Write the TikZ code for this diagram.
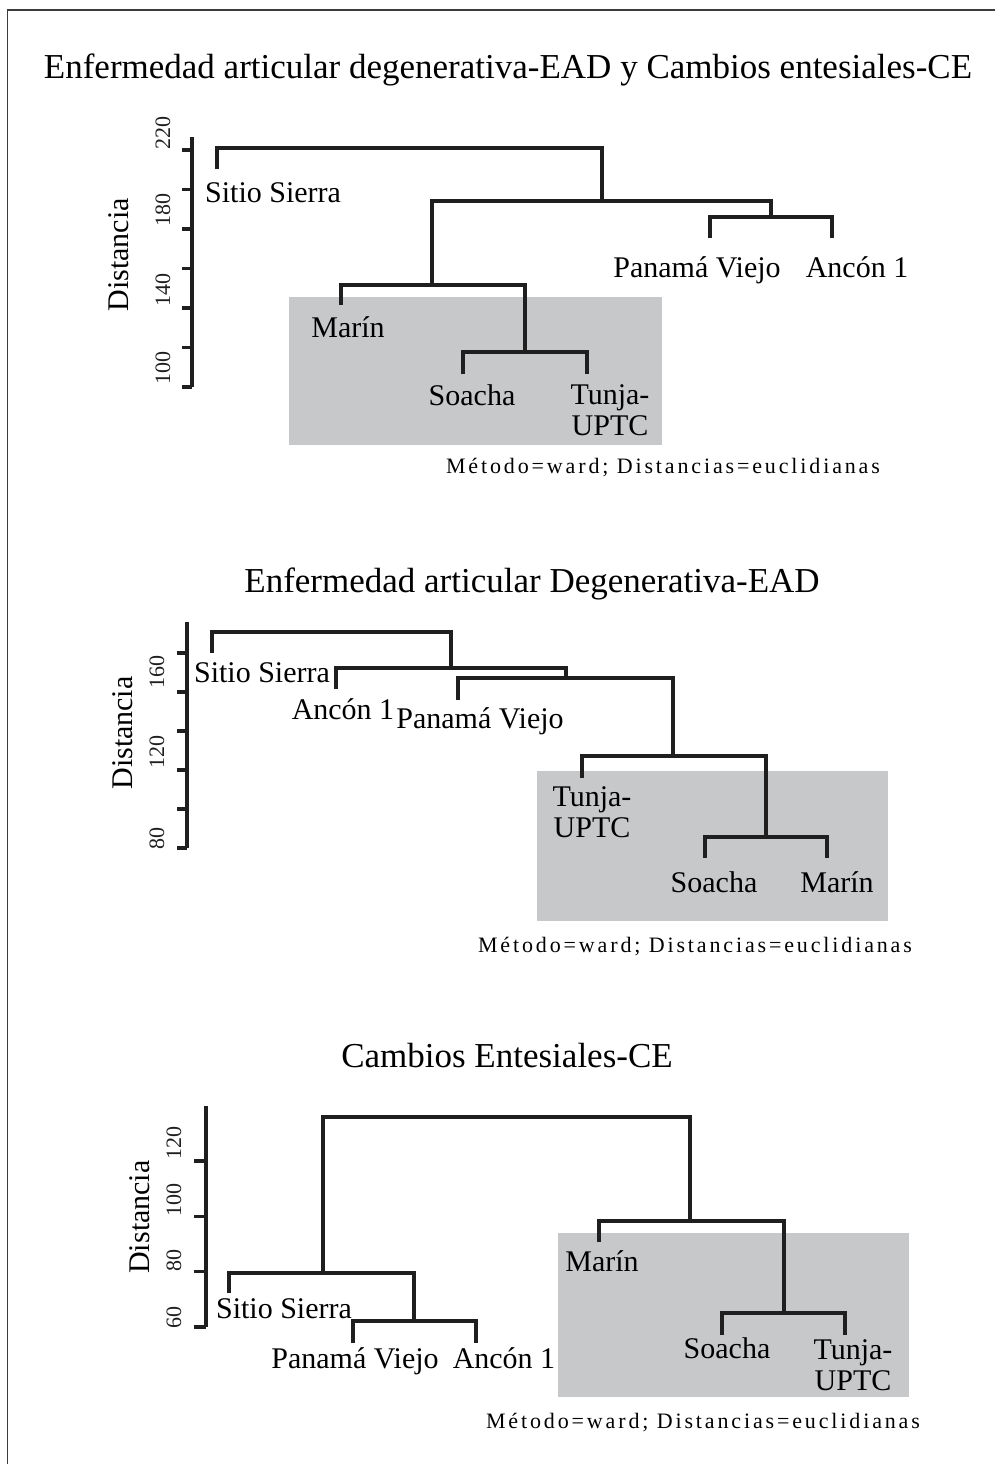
\documentclass[tikz,border=0pt]{standalone}
\usepackage{fontspec}
\setmainfont{Liberation Serif}
\newfontfamily\spacedfont[LetterSpace=13]{Liberation Serif}
\definecolor{boxgray}{RGB}{199,200,202}
\definecolor{framegray}{RGB}{60,60,60}

\begin{document}
\begin{tikzpicture}[x=1pt,y=-1pt,
	tree/.style={line width=3.2pt,black!88},
	axis/.style={line width=3.2pt,black!88},
	ttl/.style={anchor=base,font=\fontsize{35}{40}\selectfont},
	lab/.style={anchor=base,font=\fontsize{30}{31}\selectfont,align=center,inner sep=0pt},
	tck/.style={rotate=90,font=\fontsize{22}{24}\selectfont,black!88},
	ylab/.style={rotate=90,font=\fontsize{30}{34}\selectfont},
	meth/.style={anchor=base,font=\spacedfont\fontsize{22}{24}\selectfont}]
				\useasboundingbox (0,0) rectangle (995,1464);
				\draw[framegray,line width=1.5pt] (7.5,1464) -- (7.5,10) -- (995,10);
				\node[ttl] (t1) at (508,78) {Enfermedad articular degenerativa-EAD y Cambios entesiales-CE};
				\node[ttl] (t2) at (532,592) {Enfermedad articular Degenerativa-EAD};
				\node[ttl] (t3) at (507,1067) {Cambios Entesiales-CE};
				\fill[boxgray] (289,297) rectangle (662,445);
				\fill[boxgray] (537,771) rectangle (888,921);
				\fill[boxgray] (558,1233) rectangle (909,1397);
				\draw[axis] (192,137) -- (192,387);
				\foreach \y in {150,189.5,...,388} \draw[axis] (182,\y) -- (192,\y);
				\foreach \v/\y in {220/133,180/210,140/290,100/368} \node[tck] at (163,\y) {\v};
				\node[ylab] (d1) at (119,255) {Distancia};
				\draw[axis] (187,622) -- (187,848);
				\foreach \y in {653,692,...,849} \draw[axis] (177,\y) -- (187,\y);
				\foreach \v/\y in {160/672,120/752,80/838} \node[tck] at (157,\y) {\v};
				\node[ylab] (d2) at (123,733) {Distancia};
				\draw[axis] (206,1106) -- (206,1327);
				\foreach \y in {1161,1216.33,...,1328} \draw[axis] (194,\y) -- (206,\y);
				\foreach \v/\y in {120/1143,100/1200,80/1260,60/1317} \node[tck] at (174,\y) {\v};
				\node[ylab] (d3) at (140,1217) {Distancia};
				\coordinate (a0) at (602,148);
				\coordinate (a1) at (602,201);
				\coordinate (a2) at (432,285);
				\coordinate (a3) at (771,217);
				\coordinate (a4) at (525,352);
				\coordinate (asie) at (217,169);
				\coordinate (apan) at (710,238);
				\coordinate (aanc) at (832,238);
				\coordinate (amar) at (341,305);
				\coordinate (asoa) at (463,374);
				\coordinate (atun) at (587,374);
				\draw[tree] (asie) |- (a0) -- (a1);
				\draw[tree] (a2) |- (a1) -| (a3);
				\draw[tree] (apan) |- (a3) -| (aanc);
				\draw[tree] (amar) |- (a2) -| (a4);
				\draw[tree] (asoa) |- (a4) -| (atun);
				\node[lab,anchor=base west] (lsie1) at (205,202) {Sitio Sierra};
				\node[lab] (lpan1) at (697,277) {Panamá Viejo};
				\node[lab] (lanc1) at (857,277) {Ancón 1};
				\node[lab] (lmar1) at (348,337) {Marín};
				\node[lab] (lsoa1) at (472,405) {Soacha};
				\node[lab] (ltun1) at (610,435) {Tunja-\\UPTC};
				\node[meth] (m1) at (663,473) {Método=ward; Distancias=euclidianas};
				\coordinate (b0) at (451,632);
				\coordinate (b1) at (451,668);
				\coordinate (b2) at (566,678);
				\coordinate (b3) at (673,756);
				\coordinate (b4) at (766,837);
				\coordinate (bsie) at (212,653);
				\coordinate (banc) at (336,689);
				\coordinate (bpan) at (458,700);
				\coordinate (btun) at (582,778);
				\coordinate (bsoa) at (705,858);
				\coordinate (bmar) at (827,858);
				\draw[tree] (bsie) |- (b0) -- (b1);
				\draw[tree] (banc) |- (b1) -| (b2);
				\draw[tree] (bpan) |- (b2) -| (b3);
				\draw[tree] (btun) |- (b3) -| (b4);
				\draw[tree] (bsoa) |- (b4) -| (bmar);
				\node[lab] (lsie2) at (262,682) {Sitio Sierra};
				\node[lab] (lanc2) at (343,719) {Ancón 1};
				\node[lab] (lpan2) at (480,728) {Panamá Viejo};
				\node[lab] (ltun2) at (592,837) {Tunja-\\UPTC};
				\node[lab] (lsoa2) at (714,892) {Soacha};
				\node[lab] (lmar2) at (837,892) {Marín};
				\node[meth] (m2) at (695,952) {Método=ward; Distancias=euclidianas};
				\coordinate (c0) at (506,1117);
				\coordinate (c1) at (323,1273);
				\coordinate (c2) at (414,1321);
				\coordinate (c3) at (690,1221);
				\coordinate (c4) at (784,1313);
				\coordinate (csie) at (229,1293);
				\coordinate (cpan) at (353,1343);
				\coordinate (canc) at (476,1343);
				\coordinate (cmar) at (599,1242);
				\coordinate (csoa) at (722,1335);
				\coordinate (ctun) at (845,1335);
				\draw[tree] (c1) |- (c0) -| (c3);
				\draw[tree] (csie) |- (c1) -| (c2);
				\draw[tree] (cpan) |- (c2) -| (canc);
				\draw[tree] (cmar) |- (c3) -| (c4);
				\draw[tree] (csoa) |- (c4) -| (ctun);
				\node[lab] (lsie3) at (284,1318) {Sitio Sierra};
				\node[lab] (lpan3) at (355,1368) {Panamá Viejo};
				\node[lab] (lanc3) at (504,1368) {Ancón 1};
				\node[lab] (lmar3) at (602,1271) {Marín};
				\node[lab] (lsoa3) at (727,1358) {Soacha};
				\node[lab] (ltun3) at (853,1390) {Tunja-\\UPTC};
				\node[meth] (m3) at (703,1428) {Método=ward; Distancias=euclidianas};
			\end{tikzpicture}
\end{document}
